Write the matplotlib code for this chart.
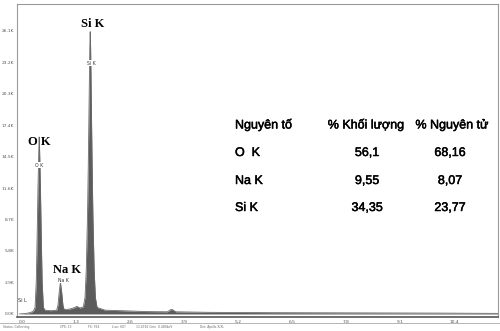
import matplotlib
matplotlib.use("Agg")
import matplotlib.pyplot as plt
import matplotlib.patheffects as pe

# spectrum outline (energy in keV, counts in thousands)
energy_kev = [-0.05, 0.10, 0.20, 0.28, 0.32, 0.35, 0.37, 0.39, 0.41, 0.42, 0.43, 0.45,
              0.47, 0.49, 0.52, 0.56, 0.70, 0.84, 0.87, 0.90, 0.93, 0.96, 0.99, 1.02,
              1.15, 1.28, 1.32, 1.40, 1.48, 1.52, 1.55, 1.58, 1.60, 1.62, 1.635, 1.645,
              1.655, 1.67, 1.69, 1.71, 1.74, 1.77, 1.81, 2.00, 2.40, 3.00, 3.50, 3.58,
              3.62, 3.70, 4.50, 6.00, 8.00, 10.00, 11.50]
counts_k = [0.0, 0.05, 0.12, 0.25, 0.6, 3.0, 7.0, 11.5, 15.0, 16.3, 15.0, 11.5,
            7.0, 3.0, 0.6, 0.35, 0.3, 0.35, 0.8, 2.0, 2.9, 2.0, 0.8, 0.4,
            0.45, 0.6, 0.7, 0.55, 0.65, 1.5, 4.0, 9.0, 14.0, 20.0, 24.5, 26.0,
            24.5, 20.0, 14.0, 9.0, 4.0, 1.5, 0.6, 0.35, 0.3, 0.22, 0.2, 0.4,
            0.4, 0.2, 0.15, 0.12, 0.1, 0.08, 0.05]

y_ticks = [0.0, 2.9, 5.8, 8.7, 11.6, 14.5, 17.4, 20.3, 23.2, 26.1]
x_ticks = [0.0, 1.3, 2.6, 3.9, 5.2, 6.5, 7.8, 9.1, 10.4]

peak_names = ["O K", "Na K", "Si K"]

table_header = ["Nguyên tố", "% Khối lượng", "% Nguyên tử"]
table_elements = ["O  K", "Na K", "Si K"]
mass_pct = ["56,1", "9,55", "34,35"]
atom_pct = ["68,16", "8,07", "23,77"]

W, H = 500, 331


def fx(px):
    return px / W


def fy(py):
    return 1 - py / H


fig = plt.figure(figsize=(5.0, 3.31), dpi=100)
ax = fig.add_axes([fx(17), fy(317), fx(498) - fx(17), fy(4) - fy(317)])

ax.fill_between(energy_kev, counts_k, 0, color="#5c5c5c", lw=0)
ax.plot(energy_kev, counts_k, color="#6a6a6a", lw=0.6)

ax.set_xlim(-0.113, 11.44)
ax.set_ylim(-0.28, 28.55)
ax.set_yticks(y_ticks)
ax.set_yticklabels([f"{v:.1f}K" for v in y_ticks])
ax.set_xticks(x_ticks)
ax.set_xticklabels([f"{v:.1f}" for v in x_ticks])
ax.tick_params(labelsize=3.2, labelcolor="#555555", length=0, pad=2)
for s in ax.spines.values():
    s.set_color("#9a9a9a")
    s.set_linewidth(0.8)
ax.spines["bottom"].set_color("#555555")
ax.spines["bottom"].set_linewidth(1.2)

# peak labels: small ones from the software, big bold ones added on top
small_pos = [(0.42, 13.7), (1.00, 3.1), (1.66, 23.1)]
big_pos = [(0.42, 15.8), (1.09, 4.05), (1.70, 26.7)]
for name, (sx, sy), (bx, by) in zip(peak_names, small_pos, big_pos):
    ax.text(sx, sy, name, fontsize=3.3, ha="center", va="center", color="#333333",
            bbox=dict(facecolor="white", edgecolor="none", pad=0.3))
    ax.text(bx, by, name, fontsize=9, fontweight="bold", family="Liberation Serif",
            ha="center", va="center", color="black")
ax.text(-0.08, 1.0, "Si L", fontsize=3.5, color="#333333", va="bottom")

# composition table (slightly heavier strokes, like the scanned original)
heavy = [pe.withStroke(linewidth=0.35, foreground="black")]
tfont = dict(family="Liberation Sans", fontsize=9, color="black", va="center",
             path_effects=heavy)
fig.text(fx(235), fy(125), table_header[0], ha="left", **tfont)
fig.text(fx(366), fy(125), table_header[1], ha="center", **tfont)
fig.text(fx(452), fy(125), table_header[2], ha="center", **tfont)
row_y = [153, 181, 208]
for el, m, a, ry in zip(table_elements, mass_pct, atom_pct, row_y):
    fig.text(fx(235), fy(ry), el, ha="left", **tfont)
    fig.text(fx(367), fy(ry), m, ha="center", **tfont)
    fig.text(fx(450), fy(ry), a, ha="center", **tfont)

# status bar of the acquisition software
fig.add_artist(plt.Line2D([0, 1], [fy(323), fy(323)], color="#aaaaaa", lw=0.6))
status = ["Status: Collecting", "CPS: 13", "FS: 764", "Live: 60?", "13.4726 Cnts  0.480keV",
          "Det: Apollo X/XL"]
status_x = [3, 60, 88, 112, 136, 200]
for t, sx in zip(status, status_x):
    fig.text(fx(sx), fy(327), t, fontsize=2.2, color="#666666", va="center")

fig.savefig("out.png", dpi=100)
